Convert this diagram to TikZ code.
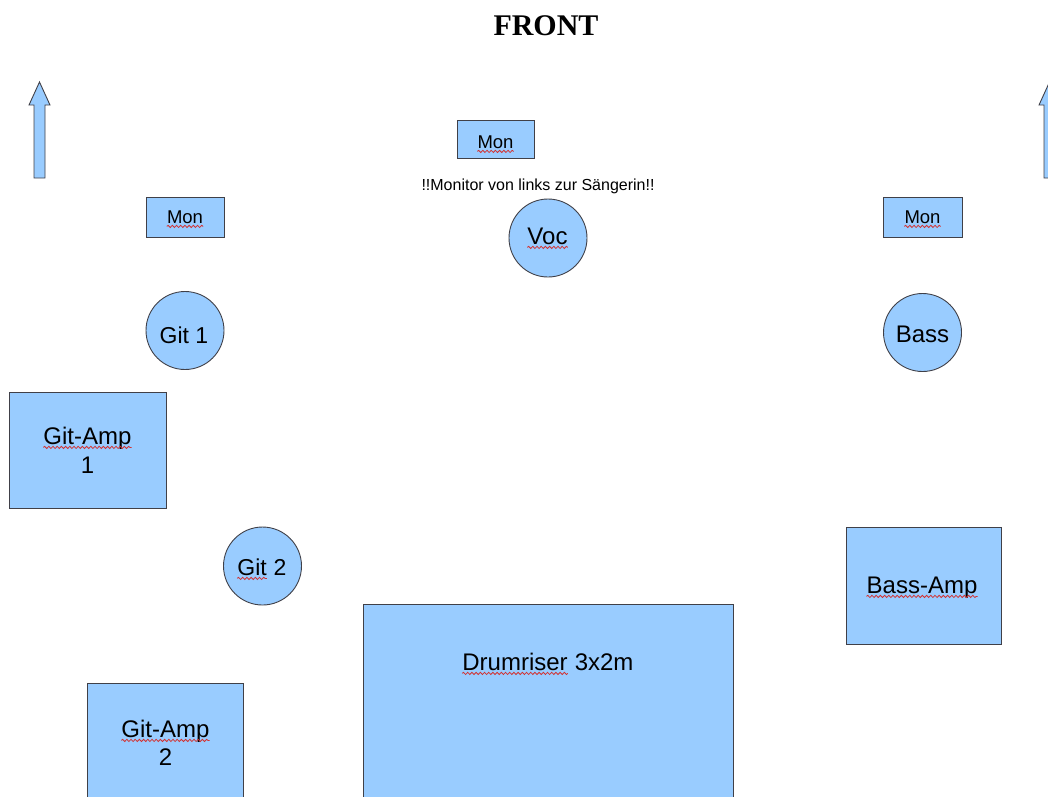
\documentclass[tikz,border=0pt]{standalone}
\usepackage{fontspec}
\setmainfont{Liberation Sans}
\newfontfamily\frontfont{Liberation Serif}
\usetikzlibrary{decorations.pathmorphing}
\definecolor{stagefill}{RGB}{153,204,255}
\definecolor{stageline}{RGB}{64,64,72}
\definecolor{squig}{RGB}{210,50,50}
\begin{document}
\begin{tikzpicture}[x=1pt,y=-1pt,
  prop/.style={draw=stageline, fill=stagefill, line width=0.9pt},
  boxnode/.style={prop, rectangle, inner sep=0pt, anchor=north west},
  ring/.style={prop, circle, inner sep=0pt, minimum size=78pt},
  lbl/.style={inner sep=0pt, anchor=base, font=\fontsize{24}{28.8}\selectfont},
  lblb/.style={inner sep=0pt, anchor=base, font=\fontsize{23}{27.6}\selectfont},
  small/.style={inner sep=0pt, anchor=base, font=\fontsize{18.5}{22}\selectfont},
  note/.style={inner sep=0pt, anchor=base, font=\fontsize{16}{19}\selectfont},
  title/.style={inner sep=0pt, anchor=base, font=\frontfont\bfseries\fontsize{30}{36}\selectfont},
  squiggle/.style={draw=squig, line width=0.8pt, decorate,
    decoration={snake, amplitude=1.1pt, segment length=4.2pt}},
]
\useasboundingbox (0,0) rectangle (1048,796);
\clip (0,0) rectangle (1048,796);

% arrows
\draw[prop] (34,178) -- (34,105) -- (29,105) -- (39.5,82) -- (50,105) -- (45,105) -- (45,178) -- cycle;
\draw[prop] (1044,178) -- (1044,105) -- (1039,105) -- (1049.5,82) -- (1060,105) -- (1055,105) -- (1055,178) -- cycle;

% boxes
\node[boxnode, minimum width=77pt, minimum height=38pt] (montop) at (457,120) {};
\node[boxnode, minimum width=78pt, minimum height=40pt] (monleft) at (146,197) {};
\node[boxnode, minimum width=79pt, minimum height=40pt] (monright) at (883,197) {};
\node[boxnode, minimum width=157pt, minimum height=116pt] (amp1) at (9,392) {};
\node[boxnode, minimum width=156pt, minimum height=150pt] (amp2) at (87,683) {};
\node[boxnode, minimum width=370pt, minimum height=250pt] (drums) at (363,604) {};
\node[boxnode, minimum width=155pt, minimum height=117pt] (bassamp) at (846,527) {};

% circles
\node[ring] (voc) at (548,238) {};
\node[ring] (git1) at (185,330.5) {};
\node[ring] (bass) at (922.5,332.5) {};
\node[ring] (git2) at (262.5,566) {};

% texts
\node[title] (front) at (546,35) {FRONT};
\node[small] (tmontop) at (495.5,148) {Mon};
\node[note] (tnote) at (538,190) {!!Monitor von links zur Sängerin!!};
\node[small] (tmonleft) at (185,223) {Mon};
\node[small] (tmonright) at (922.5,223) {Mon};
\node[lbl] (tvoc) at (547.5,244) {Voc};
\node[lblb] (tgit1) at (184,343) {Git 1};
\node[lbl] (tbass) at (922.5,342) {Bass};
\node[lbl] (tamp1a) at (87.5,444) {Git-Amp};
\node[lbl] (tamp1b) at (87.5,473) {1};
\node[lblb, anchor=base west] (tgit2a) at (237.2,575) {Git};
\node[lblb, anchor=base west] (tgit2b) at (tgit2a.base east) {\ 2};
\node[lbl, anchor=base west] (tdrumsa) at (462.2,670) {Drumriser};
\node[lbl, anchor=base west] (tdrumsb) at (tdrumsa.base east) {\ 3x2m};
\node[lbl] (tbassamp) at (922,593) {Bass-Amp};
\node[lbl] (tamp2a) at (165.5,737) {Git-Amp};
\node[lbl] (tamp2b) at (165.5,765) {2};

% spell-check squiggles
\foreach \w in {tmontop,tmonleft,tmonright,tvoc,tamp1a,tgit2a,tdrumsa,tbassamp,tamp2a}
  \draw[squiggle] ([yshift=-3.4pt]\w.base west) -- ([yshift=-3.4pt]\w.base east);
\end{tikzpicture}
\end{document}
